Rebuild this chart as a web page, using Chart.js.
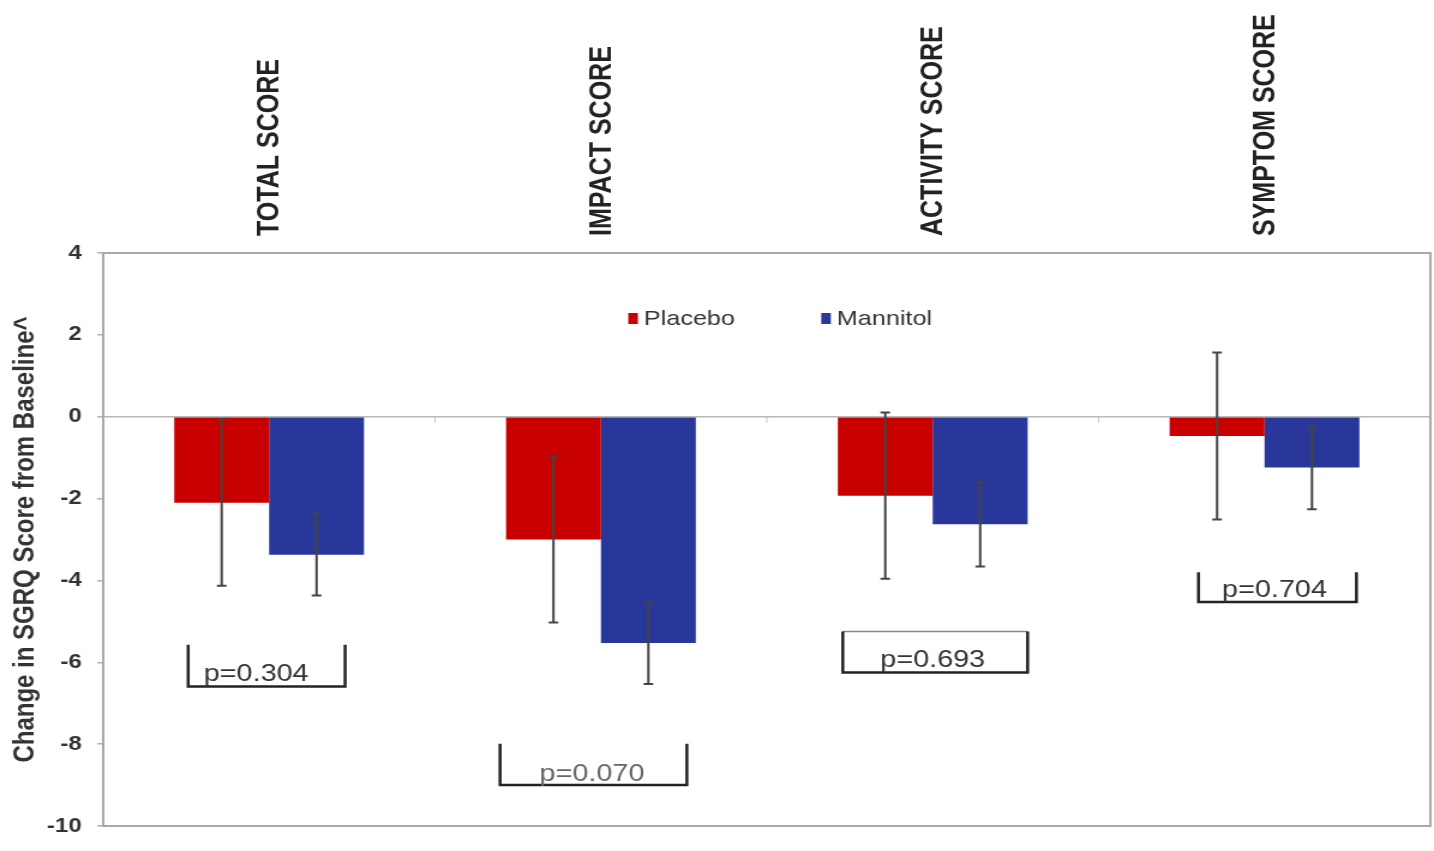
<!DOCTYPE html>
<html>
<head>
<meta charset="utf-8">
<script src="https://cdn.jsdelivr.net/npm/chart.js@4.4.1/dist/chart.umd.min.js"></script>
<style>
  html, body { margin: 0; padding: 0; background: #fff; }
</style>
</head>
<body>
<!-- drawn at 1195 wide and widened to 1434 on screen -->
<canvas id="myChart" width="1195" height="851" style="display:block;width:1434px;height:851px"></canvas>
<script>
const categories = ["TOTAL SCORE", "IMPACT SCORE", "ACTIVITY SCORE", "SYMPTOM SCORE"];
const placebo = [-2.1, -3.0, -1.93, -0.47];
const mannitol = [-3.37, -5.53, -2.63, -1.24];
const placeboErr = [2.03, 2.03, 2.03, 2.04];
const mannitolErr = [1.0, 1.0, 1.03, 1.02];
const pValues = ["p=0.304", "p=0.070", "p=0.693", "p=0.704"];
const yTicks = [4, 2, 0, -2, -4, -6, -8, -10];

const RED = "#C80000";
const BLUE = "#29379A";
const FONT = "'Liberation Sans', Arial, sans-serif";

// error bars drawn over each bar
const errorBars = {
  id: "errorBars",
  afterDatasetsDraw(chart) {
    const ctx = chart.ctx;
    const y = chart.scales.y;
    const errs = [placeboErr, mannitolErr];
    ctx.save();
    ctx.strokeStyle = "#444";
    ctx.lineWidth = 2;
    chart.data.datasets.forEach((ds, i) => {
      chart.getDatasetMeta(i).data.forEach((bar, j) => {
        const v = ds.data[j];
        const top = y.getPixelForValue(v + errs[i][j]);
        const bottom = y.getPixelForValue(v - errs[i][j]);
        ctx.beginPath();
        ctx.moveTo(bar.x, top);
        ctx.lineTo(bar.x, bottom);
        ctx.moveTo(bar.x - 4, top);
        ctx.lineTo(bar.x + 4, top);
        ctx.moveTo(bar.x - 4, bottom);
        ctx.lineTo(bar.x + 4, bottom);
        ctx.stroke();
      });
    });
    ctx.restore();
  },
};

// frame, zero line ticks, legend and p-value brackets
const decorations = {
  id: "decorations",
  afterDatasetsDraw(chart, args, opts) {
    const ctx = chart.ctx;
    const area = chart.chartArea;
    const x = chart.scales.x;
    const y = chart.scales.y;
    const catW = (area.right - area.left) / categories.length;
    ctx.save();

    // plot frame
    ctx.strokeStyle = "#a8a8a8";
    ctx.lineWidth = 2;
    ctx.strokeRect(area.left, area.top, area.right - area.left, area.bottom - area.top);

    // small category ticks on the zero line
    const y0 = y.getPixelForValue(0);
    ctx.strokeStyle = "#c0c0c0";
    ctx.lineWidth = 1;
    for (let i = 1; i < categories.length; i++) {
      const tx = area.left + catW * i;
      ctx.beginPath();
      ctx.moveTo(tx, y0);
      ctx.lineTo(tx, y0 + 6);
      ctx.stroke();
    }

    // legend inside the plot
    ctx.font = "21px " + FONT;
    ctx.textBaseline = "middle";
    ctx.textAlign = "left";
    opts.legend.forEach((item) => {
      const lx = area.left + item.at * (area.right - area.left);
      const ly = area.top + 65;
      ctx.fillStyle = item.color;
      ctx.fillRect(lx, ly - 5, 8, 11);
      ctx.fillStyle = "#333";
      ctx.fillText(item.label, lx + 13, ly + 1);
    });

    // p-value brackets
    opts.brackets.forEach((b, i) => {
      const cx = x.getPixelForValue(i);
      const left = cx + b.from * catW;
      const right = cx + b.to * catW;
      const top = y.getPixelForValue(b.top);
      const bottom = y.getPixelForValue(b.bottom);
      if (b.closed) {
        ctx.strokeStyle = "#888";
        ctx.lineWidth = 1.5;
        ctx.beginPath();
        ctx.moveTo(left, top);
        ctx.lineTo(right, top);
        ctx.stroke();
      }
      ctx.strokeStyle = "#222";
      ctx.lineWidth = 2.5;
      ctx.beginPath();
      ctx.moveTo(left, top);
      ctx.lineTo(left, bottom);
      ctx.lineTo(right, bottom);
      ctx.lineTo(right, top);
      ctx.stroke();

      ctx.font = "24px " + FONT;
      ctx.textAlign = "center";
      ctx.textBaseline = "middle";
      ctx.fillStyle = b.color;
      ctx.fillText(pValues[i], cx + b.text * catW, y.getPixelForValue(b.label));
    });

    ctx.restore();
  },
};

const ctx = document.getElementById("myChart");
const config = {
  type: "bar",
  data: {
    labels: categories,
    datasets: [
      {
        label: "Placebo",
        data: placebo,
        backgroundColor: RED,
        borderWidth: 0,
        categoryPercentage: 0.572,
        barPercentage: 1,
      },
      {
        label: "Mannitol",
        data: mannitol,
        backgroundColor: BLUE,
        borderWidth: 0,
        categoryPercentage: 0.572,
        barPercentage: 1,
      },
    ],
  },
  options: {
    responsive: false,
    animation: false,
    layout: { padding: { left: 0, right: 3, top: 0, bottom: 20 } },
    plugins: {
      legend: { display: false },
      tooltip: { enabled: false },
      decorations: {
        legend: [
          { label: "Placebo", color: RED, at: 0.3956 },
          { label: "Mannitol", color: BLUE, at: 0.541 },
        ],
        brackets: [
          { from: -0.244, to: 0.229, top: -5.57, bottom: -6.59, text: -0.039, label: -6.3, color: "#333", closed: false },
          { from: -0.304, to: 0.259, top: -7.99, bottom: -9.0, text: -0.027, label: -8.75, color: "#666", closed: false },
          { from: -0.271, to: 0.286, top: -5.25, bottom: -6.25, text: 0.0, label: -5.96, color: "#333", closed: true },
          { from: -0.199, to: 0.277, top: -3.8, bottom: -4.53, text: 0.03, label: -4.25, color: "#333", closed: false },
        ],
      },
    },
    scales: {
      x: {
        position: "top",
        grid: { display: false, drawTicks: false },
        border: { display: false },
        ticks: {
          autoSkip: false,
          minRotation: 90,
          maxRotation: 90,
          padding: 17,
          labelOffset: 31,
          color: "#222",
          font: { family: FONT, size: 25, weight: "bold" },
        },
        afterFit(scale) {
          scale.height = 253;
        },
      },
      y: {
        min: -10,
        max: 4,
        afterBuildTicks(scale) {
          scale.ticks = yTicks.map((v) => ({ value: v }));
        },
        grid: {
          color: (c) => (c.tick && c.tick.value === 0 ? "#b8b8b8" : "rgba(0,0,0,0)"),
          lineWidth: 1.5,
          tickColor: "#b0b0b0",
          tickLength: 5,
        },
        border: { display: false },
        ticks: {
          padding: 13,
          color: "#333",
          font: { family: FONT, size: 20, weight: "bold" },
        },
        title: {
          display: true,
          text: "Change in SGRQ Score from Baseline^",
          color: "#333",
          padding: { top: 7, bottom: 0 },
          font: { family: FONT, size: 24, weight: "bold" },
        },
        afterFit(scale) {
          scale.width = 86;
        },
      },
    },
  },
  plugins: [errorBars, decorations],
};
const myChart = new Chart(ctx, config);
</script>
</body>
</html>
